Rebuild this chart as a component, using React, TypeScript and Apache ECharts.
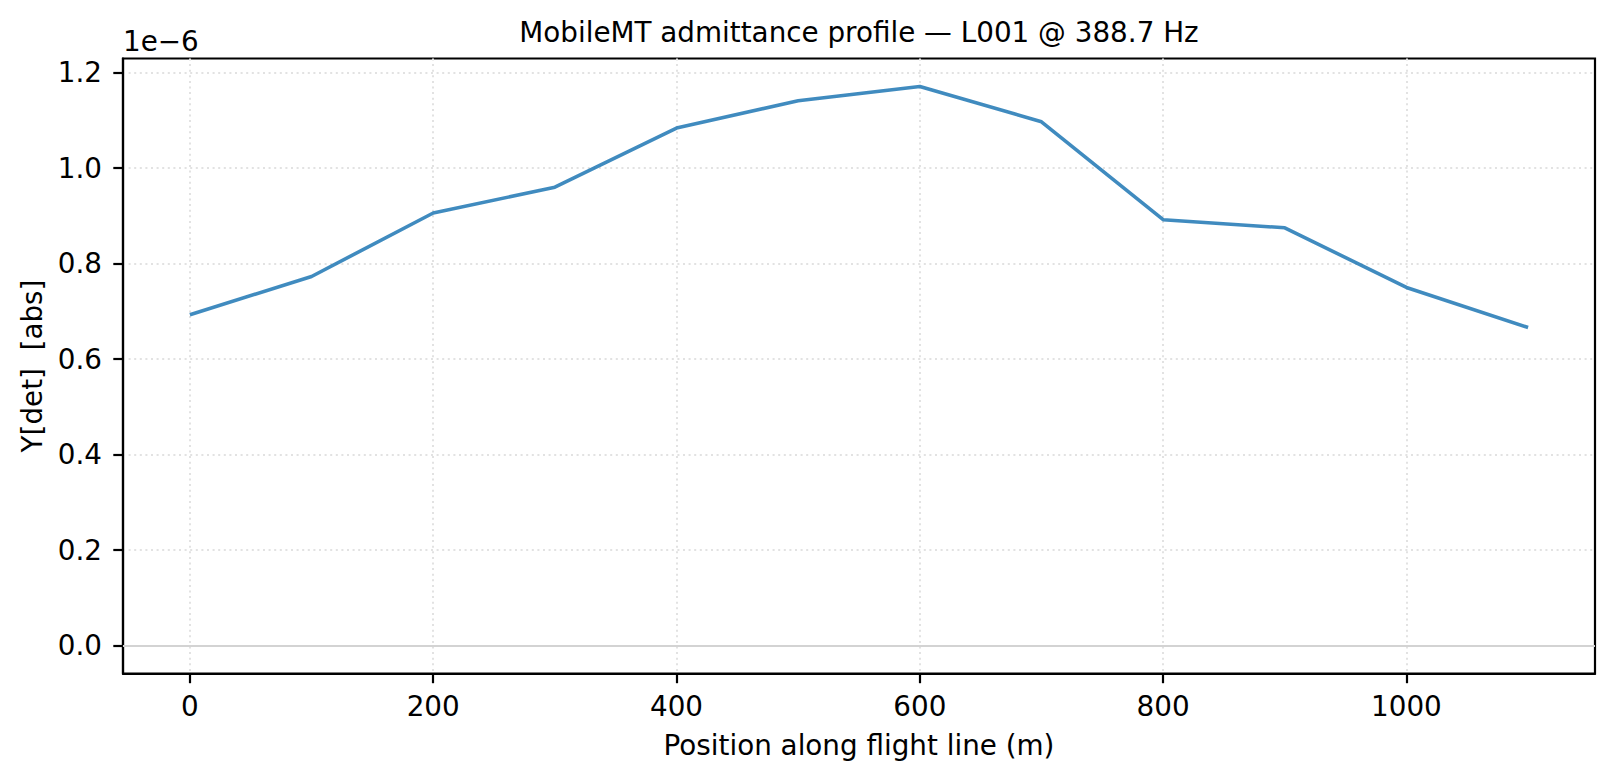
import React, { useEffect, useRef } from "react";
import * as echarts from "echarts";

// Position along flight line (m)
const positions = [0, 100, 200, 300, 400, 500, 600, 700, 800, 900, 1000, 1100];
// |Y[det]| values, in units of 1e-6
const admittance = [0.693, 0.773, 0.906, 0.960, 1.084, 1.141, 1.171, 1.097, 0.892, 0.875, 0.750, 0.666];
const xTicks = [0, 200, 400, 600, 800, 1000];
const yTicks = [0, 0.2, 0.4, 0.6, 0.8, 1.0, 1.2];

const titleText = "MobileMT admittance profile \u2014 L001 @ 388.7 Hz";
const xName = "Position along flight line (m)";
const yName = "Y[det]  [abs]";
const offsetText = "1e\u22126";

const FONT = "DejaVu Sans";
const FS = 27.8;

export default function App() {
  const ref = useRef<HTMLDivElement>(null);

  useEffect(() => {
    if (!ref.current) return;
    const chart = echarts.init(ref.current, null, { renderer: "svg" });
    const data = positions.map((p, i) => [p, admittance[i]]);
    const gridLine = { show: true, lineStyle: { color: "#e2e2e2", width: 2, type: [2, 3.6] } };
    const axisLine = { show: true, onZero: false, lineStyle: { color: "#000000", width: 2.2 } };
    const tick = (values: number[]) => ({
      show: true,
      inside: false,
      length: 9.7,
      lineStyle: { color: "#000000", width: 2.2 },
      customValues: values,
    });
    chart.setOption({
      animation: false,
      backgroundColor: "#ffffff",
      textStyle: { fontFamily: FONT },
      grid: {
        left: 123,
        right: 20,
        top: 58.5,
        bottom: 107.5,
        show: true,
        borderColor: "#000000",
        borderWidth: 2.2,
        backgroundColor: "transparent",
      },
      graphic: [
        {
          type: "text",
          x: 859,
          y: 32,
          style: {
            text: titleText,
            fontFamily: FONT,
            fontSize: FS,
            fill: "#000000",
            align: "center",
            verticalAlign: "middle",
          },
        },
        {
          type: "text",
          x: 123,
          y: 41,
          style: {
            text: offsetText,
            fontFamily: FONT,
            fontSize: FS,
            fill: "#000000",
            align: "left",
            verticalAlign: "middle",
          },
        },
      ],
      xAxis: {
        type: "value",
        min: -55,
        max: 1155,
        position: "bottom",
        name: xName,
        nameLocation: "middle",
        nameGap: 58,
        nameTextStyle: { fontFamily: FONT, fontSize: FS, color: "#000000" },
        axisLine,
        axisTick: tick(xTicks),
        axisLabel: {
          show: true,
          margin: 19,
          fontFamily: FONT,
          fontSize: FS,
          color: "#000000",
          customValues: xTicks,
          formatter: (v: number) => String(Math.round(v)),
        },
        splitLine: gridLine,
      },
      yAxis: {
        type: "value",
        min: -0.0586,
        max: 1.2296,
        position: "left",
        name: yName,
        nameLocation: "middle",
        nameGap: 77,
        nameRotate: 90,
        nameTextStyle: { fontFamily: FONT, fontSize: FS, color: "#000000" },
        axisLine,
        axisTick: tick(yTicks),
        axisLabel: {
          show: true,
          margin: 21,
          fontFamily: FONT,
          fontSize: FS,
          color: "#000000",
          customValues: yTicks,
          formatter: (v: number) => v.toFixed(1),
        },
        splitLine: gridLine,
      },
      series: [
        {
          type: "line",
          data,
          showSymbol: false,
          symbol: "none",
          lineStyle: { color: "#1f77b4", width: 3.6, opacity: 0.85 },
          itemStyle: { color: "#1f77b4" },
          z: 3,
          markLine: {
            silent: true,
            symbol: "none",
            label: { show: false },
            lineStyle: { color: "#d3d3d3", width: 2.2, type: "solid" },
            data: [{ yAxis: 0 }],
            z: 1,
          },
        },
      ],
    });
    return () => {
      chart.dispose();
    };
  }, []);

  return (
    <div
      ref={ref}
      style={{ position: "fixed", left: 0, top: 0, width: 1615, height: 781, background: "#ffffff" }}
    />
  );
}
